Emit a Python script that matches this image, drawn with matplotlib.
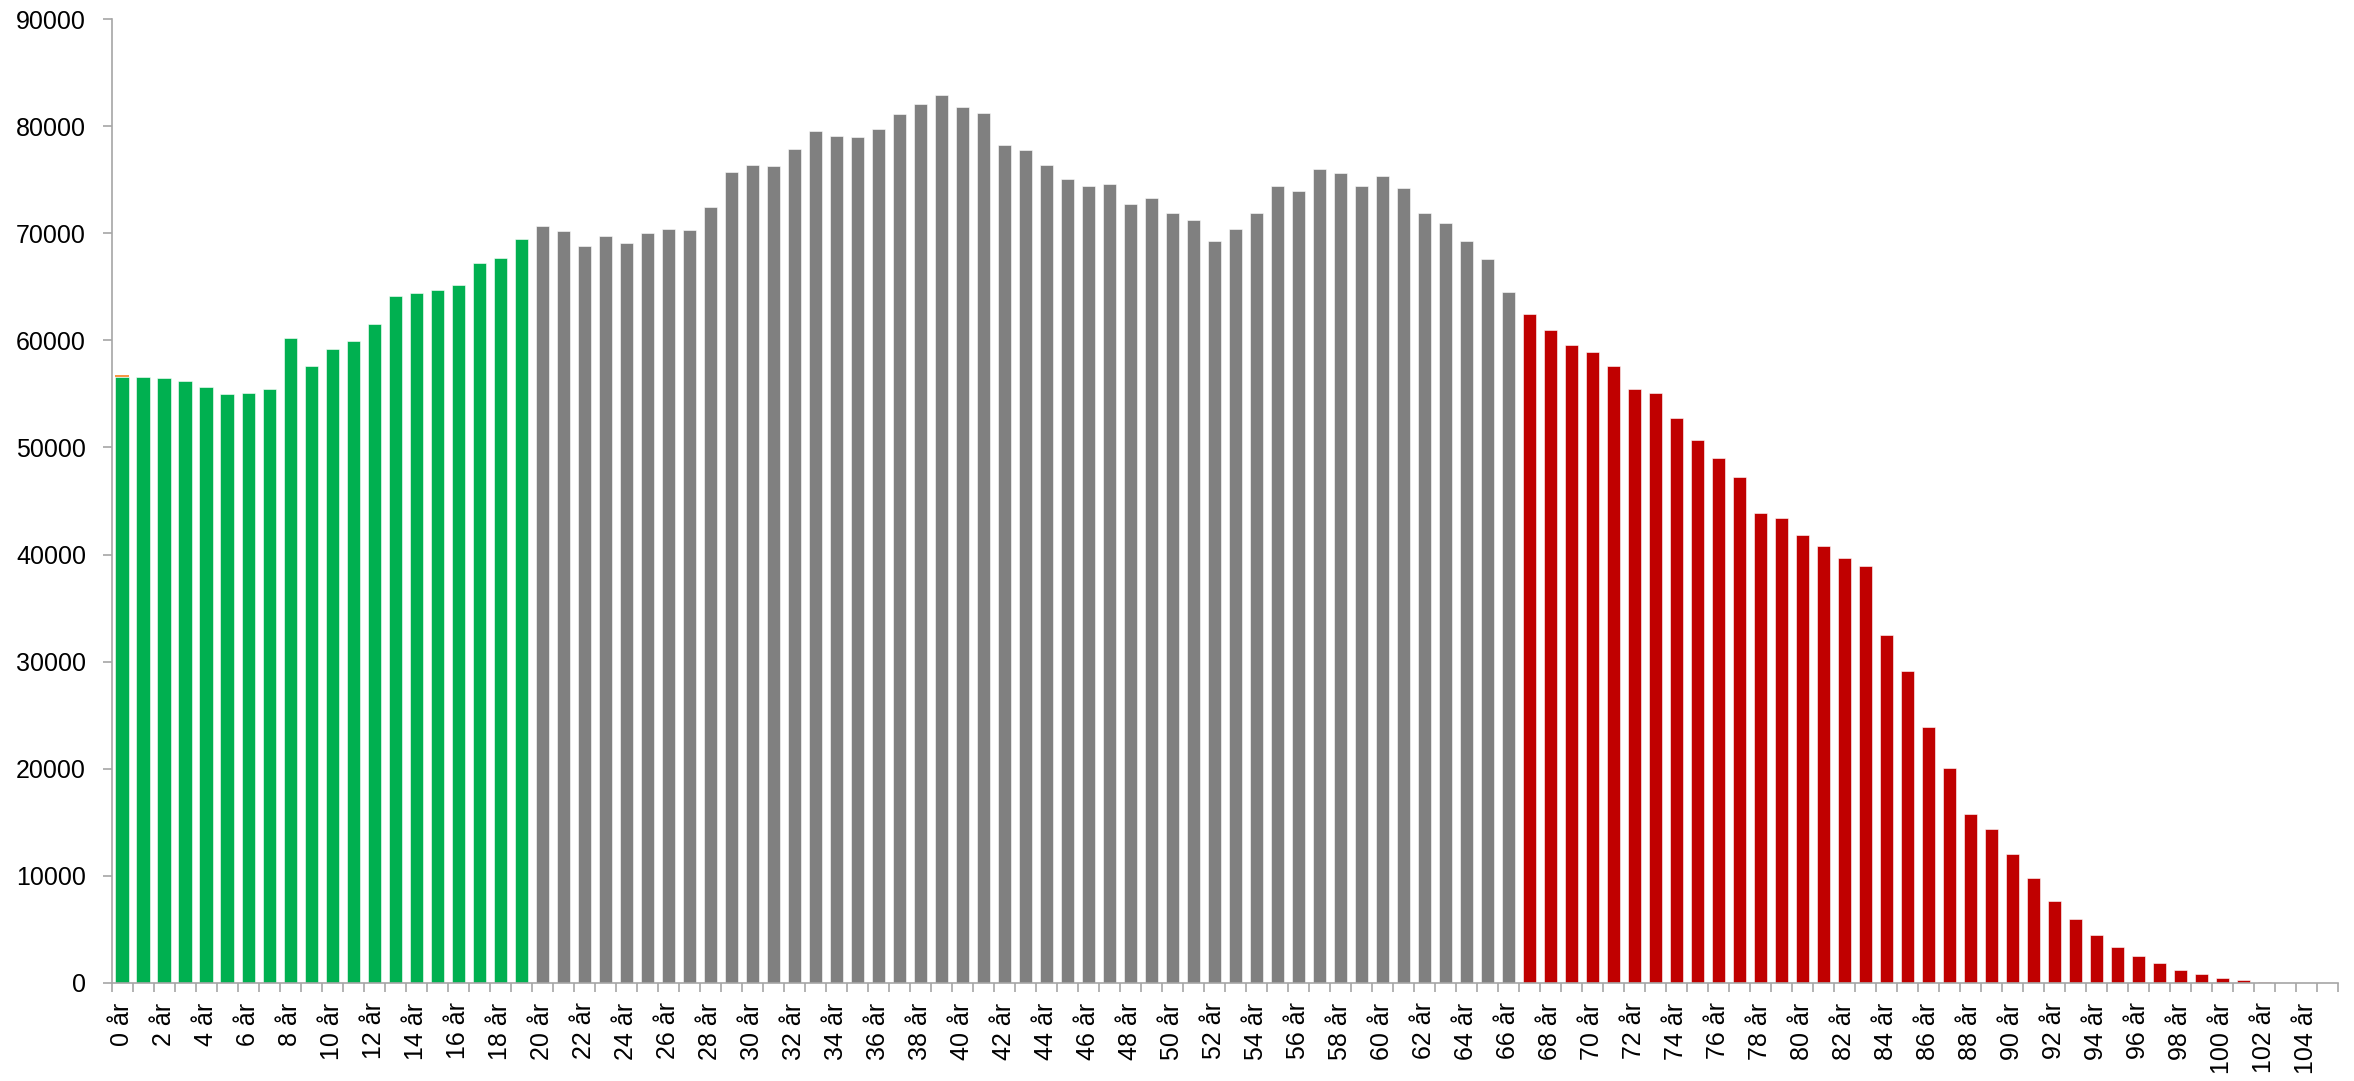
import numpy as np
import matplotlib
matplotlib.use("Agg")
import matplotlib.pyplot as plt

# population per age (0..105 år)
ages = np.arange(0, 106)

children = [56620, 56560, 56440, 56190, 55660, 55030, 55120, 55440, 60220, 57620,
            59190, 59910, 61500, 64160, 64410, 64720, 65160, 67250, 67690, 69470]

working = [70710, 70240, 68840, 69740, 69090, 70030, 70370, 70310, 72460, 75720,
           76380, 76320, 77840, 79500, 79090, 79000, 79740, 81110, 82080, 82950,
           81800, 81240, 78280, 77780, 76380, 75100, 74450, 74600, 72700, 73300,
           71930, 71240, 69280, 70370, 71930, 74420, 73950, 76010, 75630, 74390,
           75350, 74260, 71890, 70930, 69280, 67600, 64510]

elderly = [62500, 60930, 59600, 58880, 57620, 55480, 55080, 52760, 50710, 49020,
           47230, 43890, 43400, 41830, 40760, 39690, 38890, 32510, 29120, 23860,
           20070, 15730, 14370, 12000, 9800, 7650, 5970, 4480, 3360, 2490,
           1835, 1213, 810, 435, 250, 95, 30, 10, 3]

# thin orange sliver sitting on top of the first bar
extra_top = [180]

labels = [f"{a} år" for a in ages]

GREEN = "#00B050"
GREY = "#808080"
RED = "#C00000"
ORANGE = "#F79646"
AXIS = "#A6A6A6"

plt.rcParams["font.family"] = ["Liberation Sans", "DejaVu Sans"]

fig = plt.figure(figsize=(23.54, 10.81), dpi=100)
ax = fig.add_axes([0.0475, 0.0907, 0.9457, 0.8917])

values = children + working + elderly
colors = [GREEN] * len(children) + [GREY] * len(working) + [RED] * len(elderly)

w = 0.65
ax.bar(ages, values, width=w, color=colors, edgecolor="white", linewidth=0.4)
ax.bar(ages[:1], extra_top, bottom=values[:1], width=w, color=ORANGE, linewidth=0)

ax.set_xlim(-0.5, len(ages) - 0.5)
ax.set_ylim(0, 90000)
ax.set_yticks(np.arange(0, 90001, 10000))
ax.set_yticklabels([str(v) for v in range(0, 90001, 10000)], fontsize=18)

# category labels every second age, tick marks at the category borders
ax.set_xticks(ages[::2])
ax.set_xticklabels(labels[::2], rotation=90, fontsize=18)
ax.tick_params(axis="x", length=0, pad=14)
ax.set_xticks(np.arange(-0.5, len(ages), 1), minor=True)
ax.tick_params(axis="x", which="minor", length=6.5, color=AXIS, width=1.2)
ax.tick_params(axis="y", length=6.5, color=AXIS, width=1.2, pad=12)

for s in ["top", "right"]:
    ax.spines[s].set_visible(False)
for s in ["left", "bottom"]:
    ax.spines[s].set_color(AXIS)
    ax.spines[s].set_linewidth(1.2)

fig.savefig("out.png", dpi=100)
